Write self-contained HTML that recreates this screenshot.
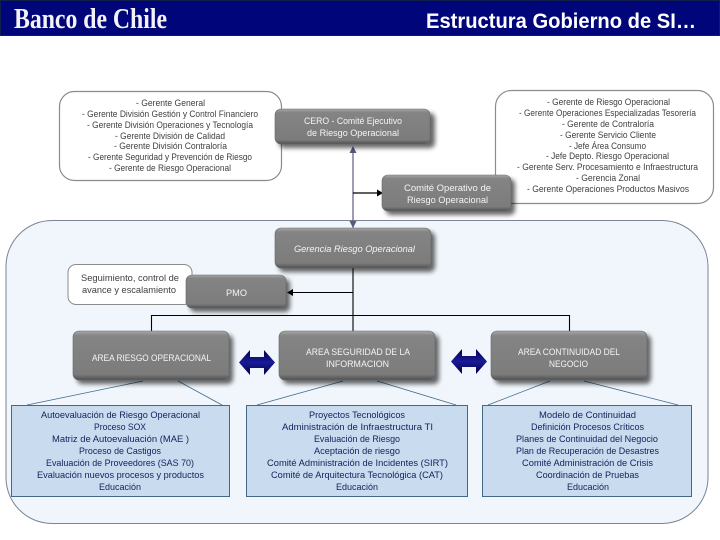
<!DOCTYPE html>
<html><head><meta charset="utf-8"><style>
html,body{margin:0;padding:0;background:#fff;width:720px;height:540px;overflow:hidden}
svg{display:block}
text{font-family:"Liberation Sans",sans-serif}
.g{font-size:9px;fill:#404040}
.b{font-size:9.5px;fill:#14205a}
.w{font-size:9px;fill:#f4f4f4}
</style></head><body>
<svg width="720" height="540" viewBox="0 0 720 540" xmlns="http://www.w3.org/2000/svg">
<defs>
<filter id="s" x="-15%" y="-25%" width="135%" height="160%"><feGaussianBlur stdDeviation="2.500"/></filter>
<linearGradient id="gb" x1="0" y1="0" x2="0" y2="1"><stop offset="0" stop-color="#a8a8a8"/><stop offset=".1" stop-color="#848484"/><stop offset=".88" stop-color="#7c7c7c"/><stop offset="1" stop-color="#505050"/></linearGradient>
<linearGradient id="ar" x1="0" y1="0" x2="0" y2="1"><stop offset="0" stop-color="#000050"/><stop offset=".5" stop-color="#1a1a98"/><stop offset="1" stop-color="#000040"/></linearGradient>
<g id="dbl"><path d="M0 12.500L11 0V7H25V0L36 12.500L25 25V18H11V25Z" fill="url(#ar)"/></g>
</defs>

<rect x="0" y="0" width="720" height="36" fill="#00067a"/>
<rect x="0.500" y="0.500" width="719" height="35" fill="none" stroke="#10204a"/>
<text x="14" y="28" font-size="28" font-weight="bold" textLength="153" lengthAdjust="spacingAndGlyphs" fill="#f2f2f8" style="font-family:'Liberation Serif',serif">Banco de Chile</text>
<text x="426" y="28" font-size="21" font-weight="bold" textLength="270" lengthAdjust="spacingAndGlyphs" fill="#fff">Estructura Gobierno de SI…</text>

<rect x="59.500" y="91.500" width="222" height="89" rx="15" fill="#fff" stroke="#8c8c8c" stroke-width="1.200"/>
<g class="g">
<text x="136" y="106" textLength="69" lengthAdjust="spacingAndGlyphs">- Gerente General</text>
<text x="82" y="117" textLength="176" lengthAdjust="spacingAndGlyphs">- Gerente División Gestión y Control Financiero</text>
<text x="87" y="128" textLength="166" lengthAdjust="spacingAndGlyphs">- Gerente División Operaciones y Tecnología</text>
<text x="115" y="139" textLength="110" lengthAdjust="spacingAndGlyphs">- Gerente División de Calidad</text>
<text x="114" y="149" textLength="113" lengthAdjust="spacingAndGlyphs">- Gerente División Contraloría</text>
<text x="88" y="160" textLength="164" lengthAdjust="spacingAndGlyphs">- Gerente Seguridad y Prevención de Riesgo</text>
<text x="109" y="171" textLength="122" lengthAdjust="spacingAndGlyphs">- Gerente de Riesgo Operacional</text>
</g>

<rect x="495.500" y="90.500" width="218" height="113" rx="16" fill="#fff" stroke="#8c8c8c" stroke-width="1.200"/>
<g class="g">
<text x="547" y="105" textLength="123" lengthAdjust="spacingAndGlyphs">- Gerente de Riesgo Operacional</text>
<text x="519" y="116" textLength="177" lengthAdjust="spacingAndGlyphs">- Gerente Operaciones Especializadas Tesorería</text>
<text x="562" y="127" textLength="92" lengthAdjust="spacingAndGlyphs">- Gerente de Contraloría</text>
<text x="560" y="138" textLength="96" lengthAdjust="spacingAndGlyphs">- Gerente Servicio Cliente</text>
<text x="569" y="149" textLength="77" lengthAdjust="spacingAndGlyphs">- Jefe Área Consumo</text>
<text x="546" y="159" textLength="123" lengthAdjust="spacingAndGlyphs">- Jefe Depto. Riesgo Operacional</text>
<text x="517" y="170" textLength="181" lengthAdjust="spacingAndGlyphs">- Gerente Serv. Procesamiento e Infraestructura</text>
<text x="576" y="181" textLength="64" lengthAdjust="spacingAndGlyphs">- Gerencia Zonal</text>
<text x="527" y="192" textLength="162" lengthAdjust="spacingAndGlyphs">- Gerente Operaciones Productos Masivos</text>
</g>

<rect x="6" y="220.500" width="702" height="303" rx="46" fill="#f0f6fb" stroke="#7a8494" stroke-width="1"/>

<!-- connectors -->
<path d="M353 150V228" stroke="#5a5a80" stroke-width="1.200" fill="none"/>
<path d="M353 146l-3.500 7h7zM353 228l-3.500 -7h7z" fill="#56587e"/>
<path d="M353 193H378" stroke="#000" stroke-width="1.200" fill="none"/>
<path d="M383 193l-6 -3.500v7z" fill="#000"/>
<path d="M353 268V331M288 292.500H353M151.500 331V315.500H569.500V331" stroke="#000" stroke-width="1.100" fill="none"/>
<path d="M287 292.500l6 -3.500v7z" fill="#000"/>
<path d="M27 405L143 381M222 405L178 381M257 405L343 381M456 405L377 381M488 405L550 381M678 405L584 381" stroke="#3f6a8c" stroke-width="0.800" fill="none"/>

<!-- callout -->
<rect x="68" y="264.500" width="124" height="40" rx="8" fill="#fff" stroke="#8c8c8c"/>
<g class="g" style="font-size:9.500px">
<text x="81" y="281" textLength="98" lengthAdjust="spacingAndGlyphs">Seguimiento, control de</text>
<text x="82" y="293" textLength="94" lengthAdjust="spacingAndGlyphs">avance y escalamiento</text>
</g>

<!-- shadows -->
<g fill="#000" opacity=".6" filter="url(#s)">
<rect x="279" y="113" width="156" height="35" rx="5"/>
<rect x="386" y="179" width="129" height="36" rx="5"/>
<rect x="279" y="232" width="156" height="40" rx="5"/>
<rect x="190" y="279" width="100" height="33" rx="5"/>
<rect x="77" y="335" width="156" height="49" rx="5"/>
<rect x="283" y="335" width="156" height="49" rx="5"/>
<rect x="495" y="335" width="156" height="49" rx="5"/>
</g>
<!-- grey boxes -->
<g fill="url(#gb)" stroke="#686868" stroke-width=".6">
<rect x="275" y="109" width="155" height="35" rx="6"/>
<rect x="382" y="175" width="129" height="36" rx="6"/>
<rect x="275" y="228" width="156" height="40" rx="6"/>
<rect x="186" y="275" width="100" height="33" rx="6"/>
<rect x="73" y="331" width="156" height="49" rx="6"/>
<rect x="279" y="331" width="156" height="49" rx="6"/>
<rect x="491" y="331" width="156" height="49" rx="6"/>
</g>
<g class="w">
<text x="304" y="124" textLength="98" lengthAdjust="spacingAndGlyphs">CERO - Comité Ejecutivo</text>
<text x="307" y="136" textLength="92" lengthAdjust="spacingAndGlyphs">de Riesgo Operacional</text>
<text x="404" y="191" textLength="87" lengthAdjust="spacingAndGlyphs">Comité Operativo de</text>
<text x="407" y="203" textLength="81" lengthAdjust="spacingAndGlyphs">Riesgo Operacional</text>
<text x="294" y="252" textLength="121" lengthAdjust="spacingAndGlyphs" font-style="italic">Gerencia  Riesgo  Operacional</text>
<text x="226" y="296" textLength="21" lengthAdjust="spacingAndGlyphs">PMO</text>
<text x="92" y="361" textLength="119" lengthAdjust="spacingAndGlyphs">AREA RIESGO OPERACIONAL</text>
<text x="306" y="355" textLength="104" lengthAdjust="spacingAndGlyphs">AREA  SEGURIDAD DE  LA</text>
<text x="326" y="367" textLength="63" lengthAdjust="spacingAndGlyphs">INFORMACION</text>
<text x="518" y="355" textLength="102" lengthAdjust="spacingAndGlyphs">AREA CONTINUIDAD DEL</text>
<text x="549" y="367" textLength="39" lengthAdjust="spacingAndGlyphs">NEGOCIO</text>
</g>

<use href="#dbl" x="239" y="350"/>
<use href="#dbl" x="451" y="349"/>

<!-- blue boxes -->
<g fill="#c9dbef" stroke="#44688a" stroke-width="1">
<rect x="11.500" y="405.500" width="218" height="91"/>
<rect x="246.500" y="405.500" width="221" height="91"/>
<rect x="482.500" y="405.500" width="209" height="91"/>
</g>
<g class="b">
<text x="41" y="418" textLength="159" lengthAdjust="spacingAndGlyphs">Autoevaluación de Riesgo Operacional</text>
<text x="94" y="430" textLength="52" lengthAdjust="spacingAndGlyphs">Proceso SOX</text>
<text x="52" y="442" textLength="137" lengthAdjust="spacingAndGlyphs">Matriz de Autoevaluación (MAE )</text>
<text x="79" y="454" textLength="82" lengthAdjust="spacingAndGlyphs">Proceso de Castigos</text>
<text x="46" y="466" textLength="148" lengthAdjust="spacingAndGlyphs">Evaluación de Proveedores (SAS 70)</text>
<text x="37" y="478" textLength="167" lengthAdjust="spacingAndGlyphs">Evaluación nuevos procesos y productos</text>
<text x="99" y="490" textLength="42" lengthAdjust="spacingAndGlyphs">Educación</text>

<text x="309" y="418" textLength="96" lengthAdjust="spacingAndGlyphs">Proyectos Tecnológicos</text>
<text x="282" y="430" textLength="151" lengthAdjust="spacingAndGlyphs">Administración de Infraestructura TI</text>
<text x="314" y="442" textLength="86" lengthAdjust="spacingAndGlyphs">Evaluación de Riesgo</text>
<text x="314" y="454" textLength="86" lengthAdjust="spacingAndGlyphs">Aceptación de riesgo</text>
<text x="267" y="466" textLength="181" lengthAdjust="spacingAndGlyphs">Comité Administración de Incidentes (SIRT)</text>
<text x="271" y="478" textLength="172" lengthAdjust="spacingAndGlyphs">Comité de Arquitectura Tecnológica (CAT)</text>
<text x="336" y="490" textLength="42" lengthAdjust="spacingAndGlyphs">Educación</text>

<text x="539" y="418" textLength="97" lengthAdjust="spacingAndGlyphs">Modelo de Continuidad</text>
<text x="531" y="430" textLength="113" lengthAdjust="spacingAndGlyphs">Definición Procesos Críticos</text>
<text x="516" y="442" textLength="142" lengthAdjust="spacingAndGlyphs">Planes de Continuidad del Negocio</text>
<text x="516" y="454" textLength="143" lengthAdjust="spacingAndGlyphs">Plan de Recuperación de Desastres</text>
<text x="522" y="466" textLength="131" lengthAdjust="spacingAndGlyphs">Comité Administración de Crisis</text>
<text x="536" y="478" textLength="103" lengthAdjust="spacingAndGlyphs">Coordinación de Pruebas</text>
<text x="567" y="490" textLength="42" lengthAdjust="spacingAndGlyphs">Educación</text>
</g>
</svg>
</body></html>
